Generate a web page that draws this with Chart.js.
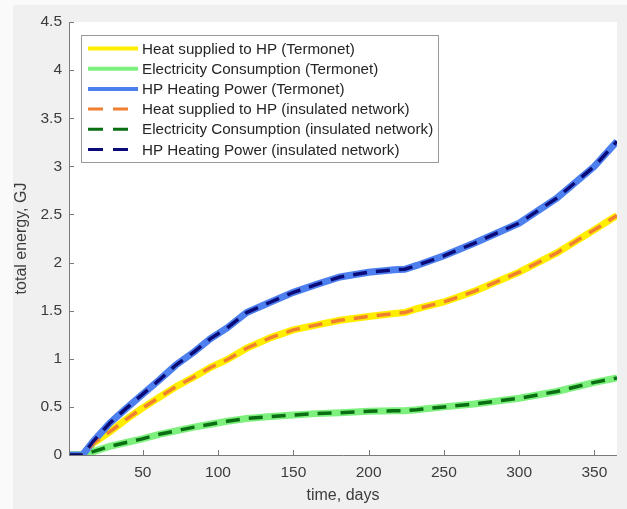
<!DOCTYPE html>
<html>
<head>
<meta charset="utf-8">
<script src="https://cdn.jsdelivr.net/npm/chart.js@4/dist/chart.umd.min.js"></script>
<style>
    html, body { margin: 0; padding: 0; background: #fafafa; }
    #wrap { width: 627px; height: 509px; position: relative; }
</style>
</head>
<body>
<div id="wrap"><canvas id="energyChart" width="627" height="509"></canvas></div>
<script>
// values (GJ, cumulative)
const days = [1, 10, 17, 28, 39, 49, 61, 72, 84, 95, 106, 119, 135, 150, 165, 181, 200, 217, 224, 232, 250, 270, 300, 325, 350, 365];
const heatTermonet = [0, 0, 0.12, 0.24, 0.37, 0.48, 0.60, 0.71, 0.81, 0.91, 0.99, 1.11, 1.22, 1.30, 1.35, 1.40, 1.44, 1.47, 1.48, 1.52, 1.59, 1.70, 1.90, 2.10, 2.34, 2.49];
const elecTermonet = [0, 0, 0.035, 0.09, 0.13, 0.165, 0.215, 0.25, 0.29, 0.32, 0.35, 0.38, 0.40, 0.415, 0.43, 0.44, 0.455, 0.46, 0.46, 0.47, 0.50, 0.53, 0.59, 0.66, 0.755, 0.80];
const powerTermonet = [0, 0, 0.14, 0.33, 0.485, 0.62, 0.78, 0.935, 1.07, 1.21, 1.32, 1.48, 1.59, 1.69, 1.77, 1.85, 1.90, 1.925, 1.93, 1.97, 2.07, 2.20, 2.41, 2.67, 3.00, 3.26];
// insulated network curves lie exactly on top of the Termonet ones
const heatInsulated = [0, 0, 0.12, 0.24, 0.37, 0.48, 0.60, 0.71, 0.81, 0.91, 0.99, 1.11, 1.22, 1.30, 1.35, 1.40, 1.44, 1.47, 1.48, 1.52, 1.59, 1.70, 1.90, 2.10, 2.34, 2.49];
const elecInsulated = [0, 0, 0.035, 0.09, 0.13, 0.165, 0.215, 0.25, 0.29, 0.32, 0.35, 0.38, 0.40, 0.415, 0.43, 0.44, 0.455, 0.46, 0.46, 0.47, 0.50, 0.53, 0.59, 0.66, 0.755, 0.80];
const powerInsulated = [0, 0, 0.14, 0.33, 0.485, 0.62, 0.78, 0.935, 1.07, 1.21, 1.32, 1.48, 1.59, 1.69, 1.77, 1.85, 1.90, 1.925, 1.93, 1.97, 2.07, 2.20, 2.41, 2.67, 3.00, 3.26];

const seriesLabels = [
    'Heat supplied to HP (Termonet)',
    'Electricity Consumption (Termonet)',
    'HP Heating Power (Termonet)',
    'Heat supplied to HP (insulated network)',
    'Electricity Consumption (insulated network)',
    'HP Heating Power (insulated network)'
];
const xTicks = [50, 100, 150, 200, 250, 300, 350];
const yTicks = [0, 0.5, 1, 1.5, 2, 2.5, 3, 3.5, 4, 4.5];

const FONT = 'Liberation Sans, Arial, Helvetica, sans-serif';
const TXT = '#3c3c3c';
const AXIS = '#7a7a7a';

const toPoints = (vals) => vals.map((v, i) => ({ x: days[i], y: v }));

const solid = (label, vals, color, order) => ({
    label, data: toPoints(vals), borderColor: color, backgroundColor: color,
    borderWidth: 7, pointRadius: 0, tension: 0, order, legendWidth: 4
});
const dashed = (label, vals, color, order) => ({
    label, data: toPoints(vals), borderColor: color, backgroundColor: color,
    borderWidth: 3.5, borderDash: [14, 9], pointRadius: 0, tension: 0, order, legendWidth: 3
});

// figure background: white strip at top/left, grey panel, white axes area
const bgPlugin = {
    id: 'bg',
    beforeDraw(chart) {
        const { ctx, chartArea: a } = chart;
        ctx.save();
        ctx.fillStyle = '#fafafa';
        ctx.fillRect(0, 0, chart.width, chart.height);
        ctx.fillStyle = '#f0f0f0';
        ctx.fillRect(13, 5, chart.width - 13, chart.height - 5);
        ctx.fillStyle = '#ffffff';
        ctx.fillRect(a.left, a.top, a.right - a.left, a.bottom - a.top);
        ctx.restore();
    }
};

// matlab style: axis lines on left/bottom, ticks pointing inwards
const axesPlugin = {
    id: 'matlabAxes',
    afterDatasetsDraw(chart) {
        const { ctx, chartArea: a, scales } = chart;
        ctx.save();
        ctx.strokeStyle = AXIS;
        ctx.lineWidth = 1;
        ctx.beginPath();
        ctx.moveTo(a.left + 0.5, a.top);
        ctx.lineTo(a.left + 0.5, a.bottom + 0.5);
        ctx.lineTo(a.right, a.bottom + 0.5);
        scales.x.ticks.forEach(t => {
            const px = Math.round(scales.x.getPixelForValue(t.value)) + 0.5;
            ctx.moveTo(px, a.bottom);
            ctx.lineTo(px, a.bottom - 5);
        });
        scales.y.ticks.forEach(t => {
            const py = Math.round(scales.y.getPixelForValue(t.value)) + 0.5;
            ctx.moveTo(a.left, py);
            ctx.lineTo(a.left + 5, py);
        });
        ctx.stroke();
        ctx.restore();
    }
};

// boxed legend in the upper left corner of the axes
const legendPlugin = {
    id: 'boxLegend',
    afterDraw(chart) {
        const { ctx } = chart;
        const box = { x: 81.5, y: 35.5, w: 357, h: 127 };
        ctx.save();
        ctx.fillStyle = '#ffffff';
        ctx.fillRect(box.x, box.y, box.w, box.h);
        ctx.strokeStyle = '#9a9a9a';
        ctx.lineWidth = 1;
        ctx.strokeRect(box.x, box.y, box.w, box.h);
        ctx.font = '15.2px ' + FONT;
        ctx.textBaseline = 'middle';
        chart.data.datasets.forEach((ds, i) => {
            const y = 48.5 + i * 20.2;
            ctx.beginPath();
            ctx.strokeStyle = ds.borderColor;
            ctx.lineWidth = ds.legendWidth;
            ctx.setLineDash(ds.borderDash ? [15, 10] : []);
            ctx.moveTo(88, y);
            ctx.lineTo(138, y);
            ctx.stroke();
            ctx.setLineDash([]);
            ctx.fillStyle = '#262626';
            ctx.fillText(ds.label, 142, y + 1);
        });
        ctx.restore();
    }
};

new Chart(document.getElementById('energyChart'), {
    type: 'line',
    data: {
        datasets: [
            solid(seriesLabels[0], heatTermonet, '#ffee00', 5),
            solid(seriesLabels[1], elecTermonet, '#7ef07e', 4),
            solid(seriesLabels[2], powerTermonet, '#4d80ee', 3),
            dashed(seriesLabels[3], heatInsulated, '#f08030', 2),
            dashed(seriesLabels[4], elecInsulated, '#0a6e12', 1),
            dashed(seriesLabels[5], powerInsulated, '#0a0a78', 0)
        ]
    },
    options: {
        responsive: false,
        animation: false,
        layout: { padding: { left: 0, top: 22, right: 10, bottom: 0 } },
        plugins: { legend: { display: false }, tooltip: { enabled: false } },
        scales: {
            x: {
                type: 'linear', min: 1, max: 365,
                afterBuildTicks: (s) => { s.ticks = xTicks.map(v => ({ value: v })); },
                afterFit: (s) => { s.height = 54; },
                grid: { display: false, drawTicks: false },
                border: { display: false },
                ticks: { color: TXT, padding: 8, maxRotation: 0, font: { family: FONT, size: 15.5 } },
                title: { display: true, text: 'time, days', color: TXT, padding: { top: 0, bottom: 4 }, font: { family: FONT, size: 16 } }
            },
            y: {
                min: 0, max: 4.5,
                afterBuildTicks: (s) => { s.ticks = yTicks.map(v => ({ value: v })); },
                ticks: { color: TXT, padding: 7, font: { family: FONT, size: 15.5 }, callback: (v) => String(v) },
                afterFit: (s) => { s.width = 69; },
                grid: { display: false, drawTicks: false },
                border: { display: false },
                title: { display: true, text: 'total energy, GJ', color: TXT, padding: { top: 12, bottom: 0 }, font: { family: FONT, size: 16 } }
            }
        }
    },
    plugins: [bgPlugin, axesPlugin, legendPlugin]
});
</script>
</body>
</html>
